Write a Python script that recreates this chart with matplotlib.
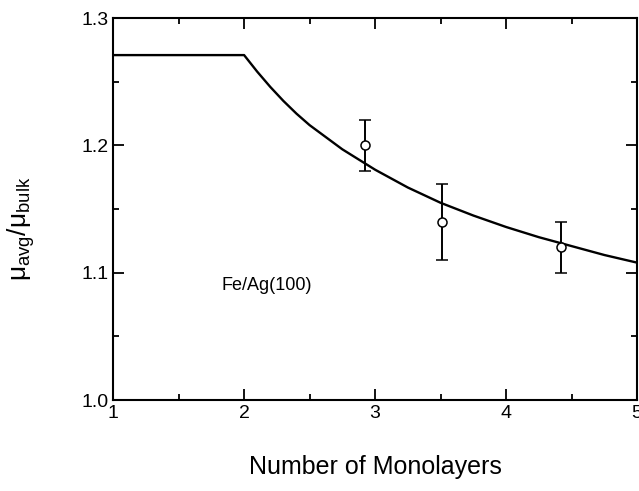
import matplotlib
matplotlib.use("Agg")
from matplotlib import pyplot as plt
from matplotlib.ticker import MultipleLocator

plt.rcParams["font.family"] = ["Liberation Sans", "DejaVu Sans"]
plt.rcParams["mathtext.fontset"] = "custom"
plt.rcParams["mathtext.rm"] = "Liberation Sans"

# model curve
curve_x = [1.0, 2.0, 2.1, 2.2, 2.3, 2.4, 2.5, 2.75, 3.0, 3.25, 3.5, 3.75,
           4.0, 4.25, 4.5, 4.75, 5.0]
curve_y = [1.271, 1.271, 1.258, 1.246, 1.235, 1.225, 1.216, 1.197, 1.181,
           1.167, 1.155, 1.145, 1.136, 1.128, 1.121, 1.114, 1.108]

# measured points with error bars
meas_x = [2.92, 3.51, 4.42]
meas_y = [1.20, 1.14, 1.12]
meas_err = [0.02, 0.03, 0.02]

x_ticks = [1, 2, 3, 4, 5]
y_ticks = [1.0, 1.1, 1.2, 1.3]

fig = plt.figure(figsize=(6.39, 4.91), dpi=100)
ax = fig.add_axes([0.177, 0.185, 0.82, 0.778])

ax.plot(curve_x, curve_y, color="black", lw=1.7)
ax.errorbar(meas_x, meas_y, yerr=meas_err, fmt="o", color="black",
            mfc="white", mec="black", ms=6.5, mew=1.1, elinewidth=1.4,
            capsize=4, capthick=1.4)

ax.text(1.83, 1.09, "Fe/Ag(100)", fontsize=13, va="center")

ax.set_xlim(1, 5)
ax.set_ylim(1.0, 1.3)
ax.set_xticks(x_ticks)
ax.set_yticks(y_ticks)
ax.set_yticklabels(["%.1f" % v for v in y_ticks])
ax.xaxis.set_minor_locator(MultipleLocator(0.5))
ax.yaxis.set_minor_locator(MultipleLocator(0.05))
ax.tick_params(which="both", direction="in", top=True, right=True,
               labelsize=14, width=1.3)
ax.tick_params(which="major", length=8)
ax.tick_params(which="minor", length=4)
for s in ax.spines.values():
    s.set_linewidth(1.5)

ax.set_xlabel("Number of Monolayers", fontsize=18, labelpad=24)
ax.set_ylabel(r"$\mathregular{\mu_{avg}/\mu_{bulk}}$", fontsize=19,
              labelpad=16)
ax.yaxis.set_label_coords(-0.145, 0.45)

fig.savefig("out.png", dpi=100)
